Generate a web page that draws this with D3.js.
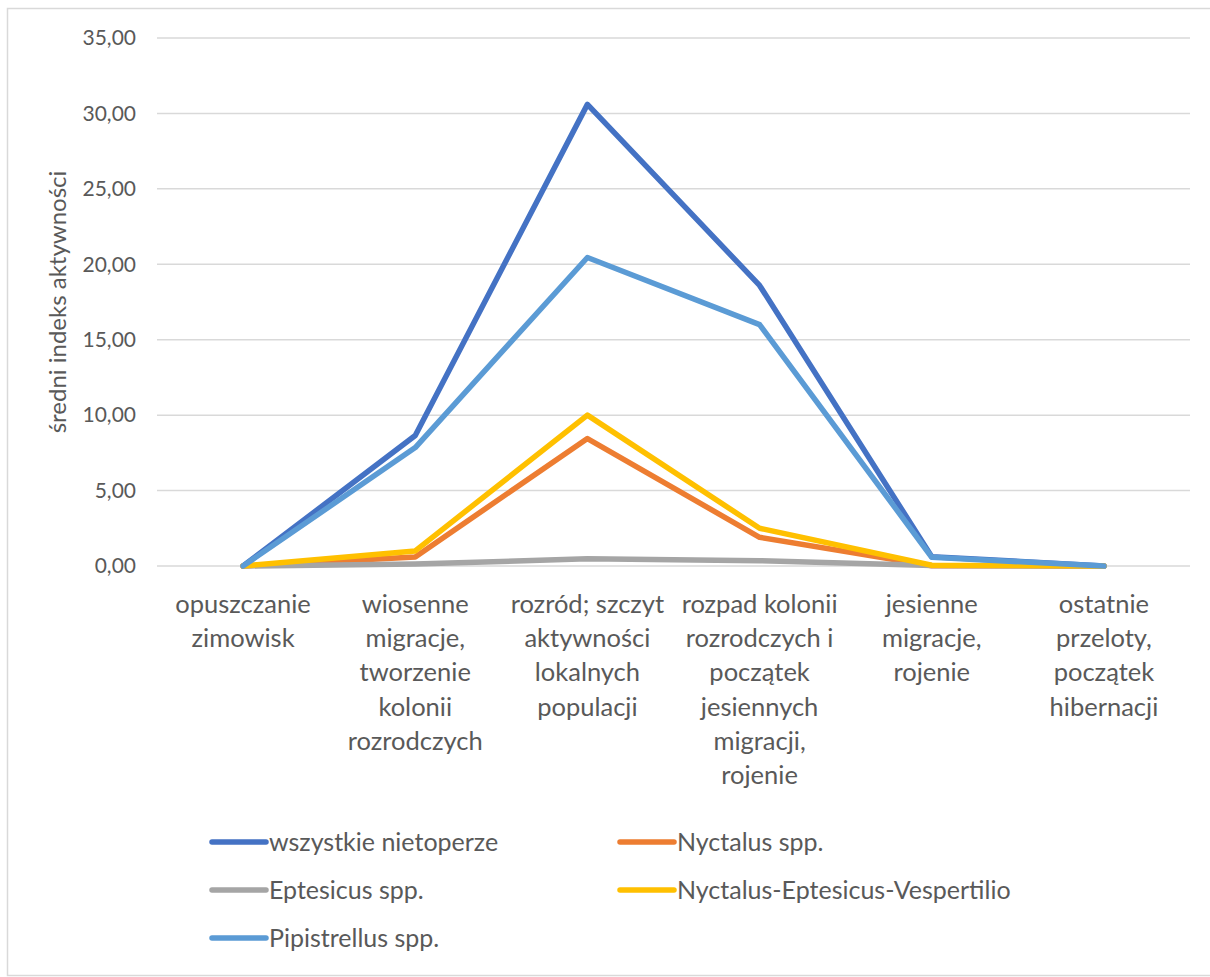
<!DOCTYPE html>
<html><head><meta charset="utf-8">
<script src="https://cdn.jsdelivr.net/npm/d3@7"></script>
<style>body{margin:0;background:#fff}svg{display:block}text{font-family:Lato,"Open Sans",sans-serif;fill:#595959}</style>
</head><body>
<svg id="chart" width="1210" height="977"></svg>
<script>
// Seasonal phases (x axis)
const categories = [
  ["opuszczanie", "zimowisk"],
  ["wiosenne", "migracje,", "tworzenie", "kolonii", "rozrodczych"],
  ["rozród; szczyt", "aktywności", "lokalnych", "populacji"],
  ["rozpad kolonii", "rozrodczych i", "początek", "jesiennych", "migracji,", "rojenie"],
  ["jesienne", "migracje,", "rojenie"],
  ["ostatnie", "przeloty,", "początek", "hibernacji"]
];
const seriesNames = ["wszystkie nietoperze", "Nyctalus spp.", "Eptesicus spp.", "Nyctalus-Eptesicus-Vespertilio", "Pipistrellus spp."];
const seriesColors = ["#4472C4", "#ED7D31", "#A5A5A5", "#FFC000", "#5B9BD5"];
const allBats = [0, 8.65, 30.6, 18.6, 0.62, 0];
const nyctalus = [0, 0.6, 8.45, 1.9, 0.02, 0];
const eptesicus = [0, 0.13, 0.48, 0.35, 0.04, 0];
const nev = [0, 1.0, 10.0, 2.5, 0.05, 0];
const pipistrellus = [0, 7.85, 20.45, 16.0, 0.58, 0];
const yTicks = [0, 5, 10, 15, 20, 25, 30, 35];
const yTitle = "średni indeks aktywności";

const seriesValues = [allBats, nyctalus, eptesicus, nev, pipistrellus];
const svg = d3.select("#chart");

// chart frame
svg.append("rect").attr("x", 7.5).attr("y", 8.5).attr("width", 1210).attr("height", 967)
  .attr("fill", "#fff").attr("stroke", "#D9D9D9").attr("stroke-width", 1.5);

const plotLeft = 157, plotRight = 1190, plotTop = 38, plotBottom = 566;
const x = d3.scaleBand().domain(d3.range(categories.length)).range([plotLeft, plotRight]);
const y = d3.scaleLinear().domain([0, 35]).range([plotBottom, plotTop]);

// gridlines
svg.append("g").selectAll("line").data(yTicks).join("line")
  .attr("x1", plotLeft).attr("x2", plotRight)
  .attr("y1", d => y(d)).attr("y2", d => y(d))
  .attr("stroke", "#D9D9D9").attr("stroke-width", 1.5);

// y axis labels
const fmt = v => v.toFixed(2).replace(".", ",");
const yAxis = d3.axisLeft(y).tickValues(yTicks).tickFormat(fmt).tickSize(0).tickPadding(21);
const ya = svg.append("g").attr("transform", `translate(${plotLeft},0)`).call(yAxis);
ya.select(".domain").remove();
ya.selectAll("text").style("font-size", "21px").attr("fill", "#595959").style("font-family", "Lato, 'Open Sans', sans-serif");

// y axis title
svg.append("text").attr("transform", `translate(66,${(plotTop + plotBottom) / 2}) rotate(-90)`)
  .attr("text-anchor", "middle").style("font-size", "24px").text(yTitle);

// category labels
const cat = svg.append("g");
categories.forEach((lines, i) => {
  const t = cat.append("text").attr("text-anchor", "middle").style("font-size", "25.5px");
  lines.forEach((l, j) => {
    t.append("tspan").attr("x", x(i) + x.bandwidth() / 2).attr("y", 613 + j * 34.2).text(l);
  });
});

// series lines
const line = d3.line().x((d, i) => x(i) + x.bandwidth() / 2).y(d => y(d));
svg.append("g").selectAll("path").data(seriesValues).join("path")
  .attr("d", line).attr("fill", "none")
  .attr("stroke", (d, i) => seriesColors[i]).attr("stroke-width", 5.5)
  .attr("stroke-linejoin", "round").attr("stroke-linecap", "round");

// legend
const legendPos = [[212, 842], [620, 842], [212, 890], [620, 890], [212, 938]];
const lg = svg.append("g").selectAll("g").data(seriesNames).join("g")
  .attr("transform", (d, i) => `translate(${legendPos[i][0]},${legendPos[i][1]})`);
lg.append("line").attr("x1", 0).attr("x2", 54).attr("stroke", (d, i) => seriesColors[i])
  .attr("stroke-width", 5.5).attr("stroke-linecap", "round");
lg.append("text").attr("x", 57).attr("y", 9).style("font-size", "25px").text(d => d);
</script>
</body></html>
